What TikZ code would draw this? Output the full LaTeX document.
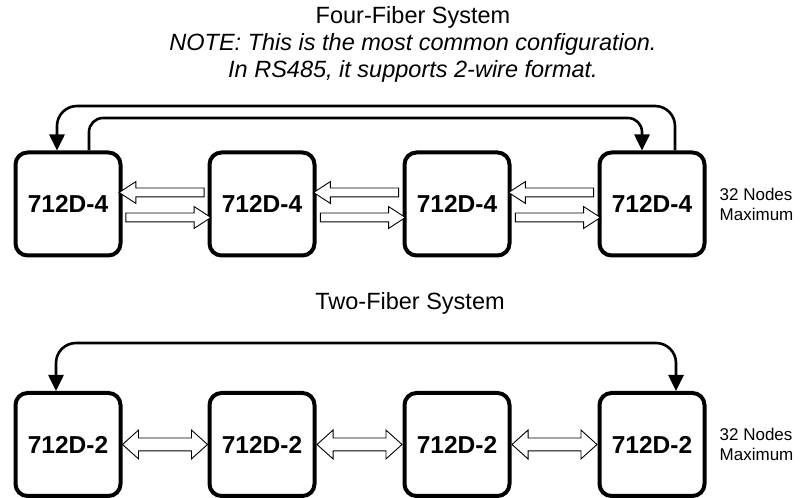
\documentclass[tikz,border=0pt]{standalone}
\usepackage{fontspec}
\setmainfont{Liberation Sans}
\usetikzlibrary{arrows.meta,shapes.arrows,calc}

\begin{document}
\begin{tikzpicture}[x=1pt,y=1pt,
    unit/.style={draw=black,line width=4pt,rounded corners=12pt,minimum width=105pt,minimum height=103pt,font=\bfseries\fontsize{24.5}{29}\selectfont},
    fib/.style={draw=black,line width=2.6pt,-{Triangle[length=16pt,width=15pt]}},
    hollow/.style={single arrow,draw=black,fill=white,line width=0.9pt,inner sep=4pt,single arrow head extend=6.5pt,single arrow tip angle=66,minimum height=85pt},
    hollowboth/.style={double arrow,draw=black,fill=white,line width=0.9pt,inner sep=6pt,double arrow head extend=8pt,double arrow tip angle=84,minimum height=85pt},
    heading/.style={font=\fontsize{23.5}{27}\selectfont,anchor=base},
    sidenote/.style={font=\fontsize{17}{20}\selectfont,align=left,anchor=west}]
    \tikzstyle{every node}+=[inner sep=0pt]
    \useasboundingbox (0,0) rectangle (804,498);
    \node [heading] (ftitle) at (413,474) {Four-Fiber System};
    \node [heading,font=\itshape\fontsize{23.5}{27}\selectfont] (fnote) at ([yshift=-27pt]ftitle.base) {NOTE: This is the most common configuration.};
    \node [heading,font=\itshape\fontsize{23.5}{27}\selectfont] (fnote2) at ([yshift=-27pt]fnote.base) {In RS485, it supports 2-wire format.};
    \node [heading] (ttitle) at (410,188) {Two-Fiber System};
    \foreach \i/\x in {1/68,2/262,3/457,4/652} {
        \node [unit] (f\i) at (\x,294) {712D-4};
        \node [unit] (t\i) at (\x,53.5) {712D-2};
    }
    \foreach \a/\b in {1/2,2/3,3/4} {
        \node [hollow,shape border rotate=180] (fl\a) at ($(f\a.east)!.5!(f\b.west)+(0,11.5)$) {};
        \node [hollow] (fr\a) at ($(f\a.east)!.5!(f\b.west)+(0,-13.5)$) {};
        \node [hollowboth] (tb\a) at ($(t\a.east)!.5!(t\b.west)$) {};
    }
    \node [sidenote] (fmax) at ([xshift=13pt]f4.east) {32 Nodes\\Maximum};
    \node [sidenote] (tmax) at ([xshift=13pt]t4.east) {32 Nodes\\Maximum};
    \coordinate (fa) at ([xshift=23pt]f4.north);
    \coordinate (fb) at ([xshift=-11pt]f1.north);
    \coordinate (fc) at ([xshift=21pt]f1.north);
    \coordinate (fd) at ([xshift=-10pt]f4.north);
    \coordinate (fo) at (0,392);
    \coordinate (fi) at (0,380);
    \draw [fib,rounded corners=20pt] (fa) -- (fa |- fo) -- (fb |- fo) -- (fb);
    \draw [fib,rounded corners=14pt] (fc) -- (fc |- fi) -- (fd |- fi) -- (fd);
    \coordinate (ta) at ([xshift=-12pt]t1.north);
    \coordinate (tb) at ([xshift=24pt]t4.north);
    \coordinate (to) at (0,155);
    \draw [fib,{Triangle[length=16pt,width=15pt]}-{Triangle[length=16pt,width=15pt]},rounded corners=20pt] (ta) -- (ta |- to) -- (tb |- to) -- (tb);
\end{tikzpicture}
\end{document}
